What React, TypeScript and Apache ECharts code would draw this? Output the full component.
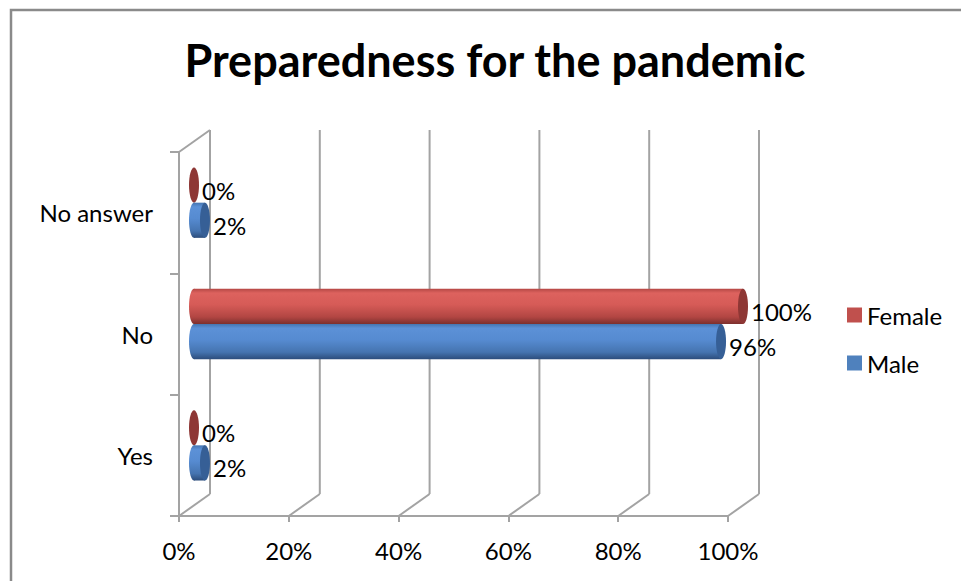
import React, { useEffect, useRef } from 'react';
import * as echarts from 'echarts';

// Survey answers, share of respondents per group
const categories = ['Yes', 'No', 'No answer'];
const femaleValues = [0, 1.0, 0];
const maleValues = [0.02, 0.96, 0.02];
const seriesNames = ['Female', 'Male'];
const tickValues = [0, 0.2, 0.4, 0.6, 0.8, 1.0];
const titleText = 'Preparedness for the pandemic';

const FONT = 'Lato, "Liberation Sans", sans-serif';
const GRID_COLOR = '#a3a3a3';
const TEXT_COLOR = '#000000';
const LABEL_SIZE = 24;

// Oblique offset of the back wall, and of the plane the cylinders sit in
const DEPTH = { dx: 31, dy: -22 };
const BAR_PLANE = { dx: 15, dy: -10 };

const PALETTE = {
  Female: {
    legend: '#C0504D',
    body: [
      { offset: 0, color: '#b54845' },
      { offset: 0.12, color: '#dd625e' },
      { offset: 0.45, color: '#d65b57' },
      { offset: 0.8, color: '#b24643' },
      { offset: 1, color: '#7c302e' },
    ],
    cap: '#8e3735',
  },
  Male: {
    legend: '#4F81BD',
    body: [
      { offset: 0, color: '#4575b0' },
      { offset: 0.12, color: '#5c91d7' },
      { offset: 0.45, color: '#568bd1' },
      { offset: 0.8, color: '#4574b0' },
      { offset: 1, color: '#2c4d7c' },
    ],
    cap: '#365f96',
  },
};

const pct = (v: number) => `${Math.round(v * 100)}%`;

function cylinder(name: 'Female' | 'Male', upper: boolean) {
  const pal = PALETTE[name];
  return (params: any, api: any) => {
    const val = api.value(0) as number;
    const cat = api.value(1) as number;
    const base = api.coord([0, cat]);
    const end = api.coord([val, cat]);
    const band = api.size([0, 1])[1];
    const h = band * 0.29;
    const ry = h / 2;
    const rx = 5;
    const cy = base[1] + BAR_PLANE.dy + (upper ? -ry : ry);
    const x0 = base[0] + BAR_PLANE.dx;
    const x1 = end[0] + BAR_PLANE.dx;
    const grad = () => new echarts.graphic.LinearGradient(0, 0, 0, 1, pal.body);
    const children: any[] = [];
    if (x1 - x0 > 0.5) {
      children.push({ type: 'ellipse', shape: { cx: x0, cy, rx, ry }, style: { fill: grad() } });
      children.push({ type: 'rect', shape: { x: x0, y: cy - ry, width: x1 - x0, height: h }, style: { fill: grad() } });
    }
    children.push({ type: 'ellipse', shape: { cx: x1, cy, rx, ry }, style: { fill: pal.cap } });
    children.push({
      type: 'text',
      x: x1 + rx + 3,
      y: cy + 5,
      style: {
        text: pct(val),
        fill: TEXT_COLOR,
        font: `${LABEL_SIZE}px ${FONT}`,
        align: 'left',
        verticalAlign: 'middle',
      },
    });
    return { type: 'group', children };
  };
}

// Side wall, floor diagonals and back-wall gridlines of the 3D frame
function frame(params: any, api: any) {
  const v = api.value(0) as number;
  const cs = params.coordSys;
  const x = api.coord([v, 0])[0];
  const top = cs.y;
  const bottom = cs.y + cs.height;
  const style = { stroke: GRID_COLOR, lineWidth: 2 };
  const children: any[] = [
    { type: 'line', shape: { x1: x, y1: bottom, x2: x + DEPTH.dx, y2: bottom + DEPTH.dy }, style },
    { type: 'line', shape: { x1: x + DEPTH.dx, y1: top + DEPTH.dy, x2: x + DEPTH.dx, y2: bottom + DEPTH.dy }, style },
  ];
  if (v === 0) {
    children.push({ type: 'line', shape: { x1: x, y1: top, x2: x + DEPTH.dx, y2: top + DEPTH.dy }, style });
  }
  return { type: 'group', children };
}

export default function App() {
  const ref = useRef<HTMLDivElement>(null);

  useEffect(() => {
    if (!ref.current) return;
    const chart = echarts.init(ref.current, undefined, { renderer: 'svg' });
    chart.setOption({
      animation: false,
      backgroundColor: '#ffffff',
      title: {
        text: titleText,
        left: 490,
        top: 32,
        textAlign: 'center',
        textStyle: { fontFamily: FONT, fontSize: 45, fontWeight: 'bold', color: TEXT_COLOR },
      },
      legend: {
        orient: 'vertical',
        left: 842,
        top: 298,
        itemWidth: 15,
        itemHeight: 15,
        itemGap: 24,
        icon: 'rect',
        data: seriesNames,
        textStyle: { fontFamily: FONT, fontSize: LABEL_SIZE, color: TEXT_COLOR, lineHeight: 24 },
      },
      graphic: [
        {
          type: 'rect',
          shape: { x: 11, y: 10, width: 2000, height: 2000 },
          style: { fill: 'none', stroke: '#8a8a8a', lineWidth: 2.5 },
          silent: true,
        },
      ],
      grid: { left: 179, top: 152, width: 549, height: 364 },
      xAxis: {
        type: 'value',
        min: 0,
        max: 1,
        interval: 0.2,
        axisLine: { show: true, lineStyle: { color: GRID_COLOR, width: 2 } },
        axisTick: { show: true, length: 6, lineStyle: { color: GRID_COLOR, width: 2 } },
        splitLine: { show: false },
        axisLabel: { formatter: (v: number) => pct(v), fontFamily: FONT, fontSize: LABEL_SIZE, color: TEXT_COLOR, margin: 22 },
      },
      yAxis: {
        type: 'category',
        data: categories,
        axisLine: { show: true, lineStyle: { color: GRID_COLOR, width: 2 } },
        axisTick: { show: true, length: 9, lineStyle: { color: GRID_COLOR, width: 2 } },
        axisLabel: { fontFamily: FONT, fontSize: LABEL_SIZE, color: TEXT_COLOR, margin: 26 },
        splitLine: { show: false },
      },
      series: [
        {
          name: 'frame',
          type: 'custom',
          z: 1,
          silent: true,
          renderItem: frame,
          data: tickValues.map((v) => [v, 0]),
          encode: { x: 0, y: 1 },
        },
        {
          name: 'Female',
          type: 'custom',
          z: 3,
          itemStyle: { color: PALETTE.Female.legend },
          renderItem: cylinder('Female', true),
          data: femaleValues.map((v, i) => [v, i]),
          encode: { x: 0, y: 1 },
        },
        {
          name: 'Male',
          type: 'custom',
          z: 3,
          itemStyle: { color: PALETTE.Male.legend },
          renderItem: cylinder('Male', false),
          data: maleValues.map((v, i) => [v, i]),
          encode: { x: 0, y: 1 },
        },
      ],
    });
    return () => chart.dispose();
  }, []);

  return (
    <div
      ref={ref}
      style={{ position: 'fixed', left: 0, top: 0, width: 961, height: 581, background: '#fff' }}
    />
  );
}
